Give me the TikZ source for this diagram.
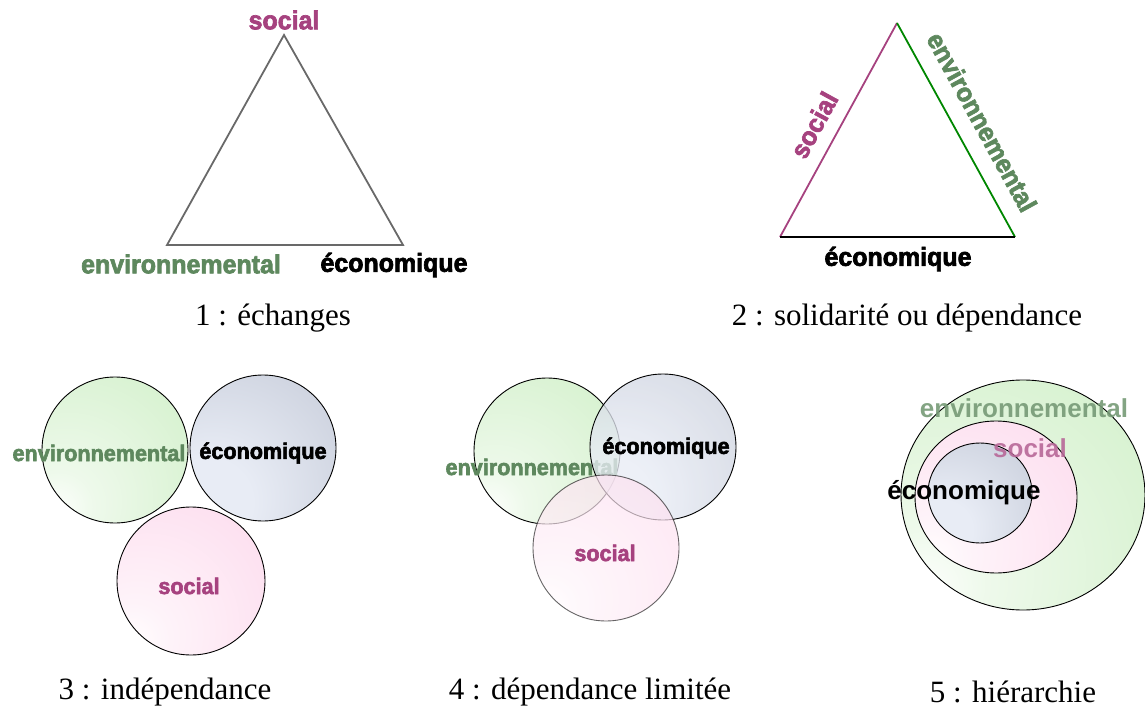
\documentclass[tikz,border=0pt]{standalone}
\usepackage{fontspec}
\setmainfont{Liberation Serif}
\newfontfamily\heavyfont[FakeStretch=0.96,FakeBold=2.6]{Liberation Sans Bold}
\newfontfamily\plainsans{Liberation Sans Bold}

\definecolor{socpink}{RGB}{166,66,127}
\definecolor{envgreen}{RGB}{94,136,94}
\definecolor{linegreen}{RGB}{0,135,0}
\definecolor{linegray}{RGB}{105,105,105}
\definecolor{ballgreen}{RGB}{198,236,188}
\definecolor{ballgray}{RGB}{184,190,205}
\definecolor{ballgraylt}{RGB}{232,236,245}
\definecolor{ballpink}{RGB}{252,208,232}

\pgfdeclareradialshading{greenball}{\pgfpoint{-22bp}{-22bp}}%
  {color(0bp)=(white); color(12bp)=(white!70!ballgreen); color(70bp)=(ballgreen); color(100bp)=(ballgreen)}
\pgfdeclareradialshading{grayball}{\pgfpoint{-22bp}{-22bp}}%
  {color(0bp)=(ballgraylt); color(15bp)=(ballgraylt); color(70bp)=(ballgray); color(100bp)=(ballgray)}
\pgfdeclareradialshading{pinkball}{\pgfpoint{-22bp}{-22bp}}%
  {color(0bp)=(white); color(12bp)=(white!75!ballpink); color(70bp)=(ballpink); color(100bp)=(ballpink)}

\begin{document}
\begin{tikzpicture}[x=1pt,y=-1pt]
  \tikzstyle{every node}=[inner sep=0pt]
  \tikzset{
    lab/.style={font=\heavyfont\fontsize{26}{26}\selectfont},
    labsm/.style={font=\heavyfont\fontsize{22.5}{22.5}\selectfont},
    labar/.style={font=\plainsans\fontsize{26}{26}\selectfont},
    caption/.style={font=\fontsize{31}{36}\selectfont},
    ring/.style={draw=black, line width=0.9pt}
  }
  \useasboundingbox (0,0) rectangle (1145,708);

  %1: triangle
  \coordinate (a1) at (284,35);
  \coordinate (b1) at (167,245);
  \coordinate (c1) at (403,245);
  \draw[linegray, line width=1.8pt, line join=miter] (a1) -- (b1) -- (c1) -- cycle;
  \node[lab, text=socpink] (soc1) at (284,20) {social};
  \node[lab, text=envgreen] (env1) at (181,264) {environnemental};
  \node[lab] (eco1) at (394,265) {économique};
  \node[caption] (cap1) at (273,318) {1 : échanges};

  %2: coloured sides
  \coordinate (a2) at (897,23);
  \coordinate (b2) at (780,237);
  \coordinate (c2) at (1015,237);
  \draw[socpink, line width=1.8pt] (b2) -- (a2);
  \draw[linegreen, line width=1.8pt] (a2) -- (c2);
  \draw[black, line width=1.8pt] (b2) -- (c2);
  \node[lab, text=socpink, rotate=61.3] (soc2) at (814,125) {social};
  \node[lab, text=envgreen, rotate=-61.3] (env2) at (982,122) {environnemental};
  \node[lab] (eco2) at (898,259) {économique};
  \node[caption] (cap2) at (907,318) {2 : solidarité ou dépendance};

  %3: separate circles
  \shadedraw[ring, shading=greenball] (115,450) circle[radius=73];
  \shadedraw[ring, shading=grayball] (263,448) circle[radius=73];
  \shadedraw[ring, shading=pinkball] (191,581) circle[radius=74];
  \node[labsm, text=envgreen] (env3) at (99,453) {environnemental};
  \node[labsm] (eco3) at (263,453) {économique};
  \node[labsm, text=socpink] (soc3) at (189,586) {social};
  \node[caption] (cap3) at (165,692) {3 : indépendance};

  %4: overlapping circles
  \shadedraw[ring, shading=greenball] (547,451) circle[radius=73];
  \node[labsm, text=envgreen] (env4) at (532,467) {environnemental};
  \shadedraw[ring, shading=grayball, fill opacity=0.78] (663,447) circle[radius=73];
  \node[labsm] (eco4) at (666,448) {économique};
  \shadedraw[ring, shading=pinkball, fill opacity=0.7, draw opacity=0.6] (606,548) circle[radius=73];
  \node[labsm, text=socpink] (soc4) at (605,553) {social};
  \node[caption] (cap4) at (590,692) {4 : dépendance limitée};

  %5: nested
  \shadedraw[ring, shading=greenball] (1023,495) ellipse[x radius=122, y radius=115];
  \shadedraw[ring, shading=pinkball] (996,497) ellipse[x radius=81, y radius=76];
  \shadedraw[ring, shading=grayball] (980,493) ellipse[x radius=52, y radius=50];
  \node[labar, text=envgreen!85!white, text opacity=0.9] (env5) at (1024,408) {environnemental};
  \node[labar, text=socpink!80!white, text opacity=0.9] (soc5) at (1030,448) {social};
  \node[labar] (eco5) at (964,493) {économique};
  \node[caption] (cap5) at (1013,692) {5 : hiérarchie};
\end{tikzpicture}
\end{document}
